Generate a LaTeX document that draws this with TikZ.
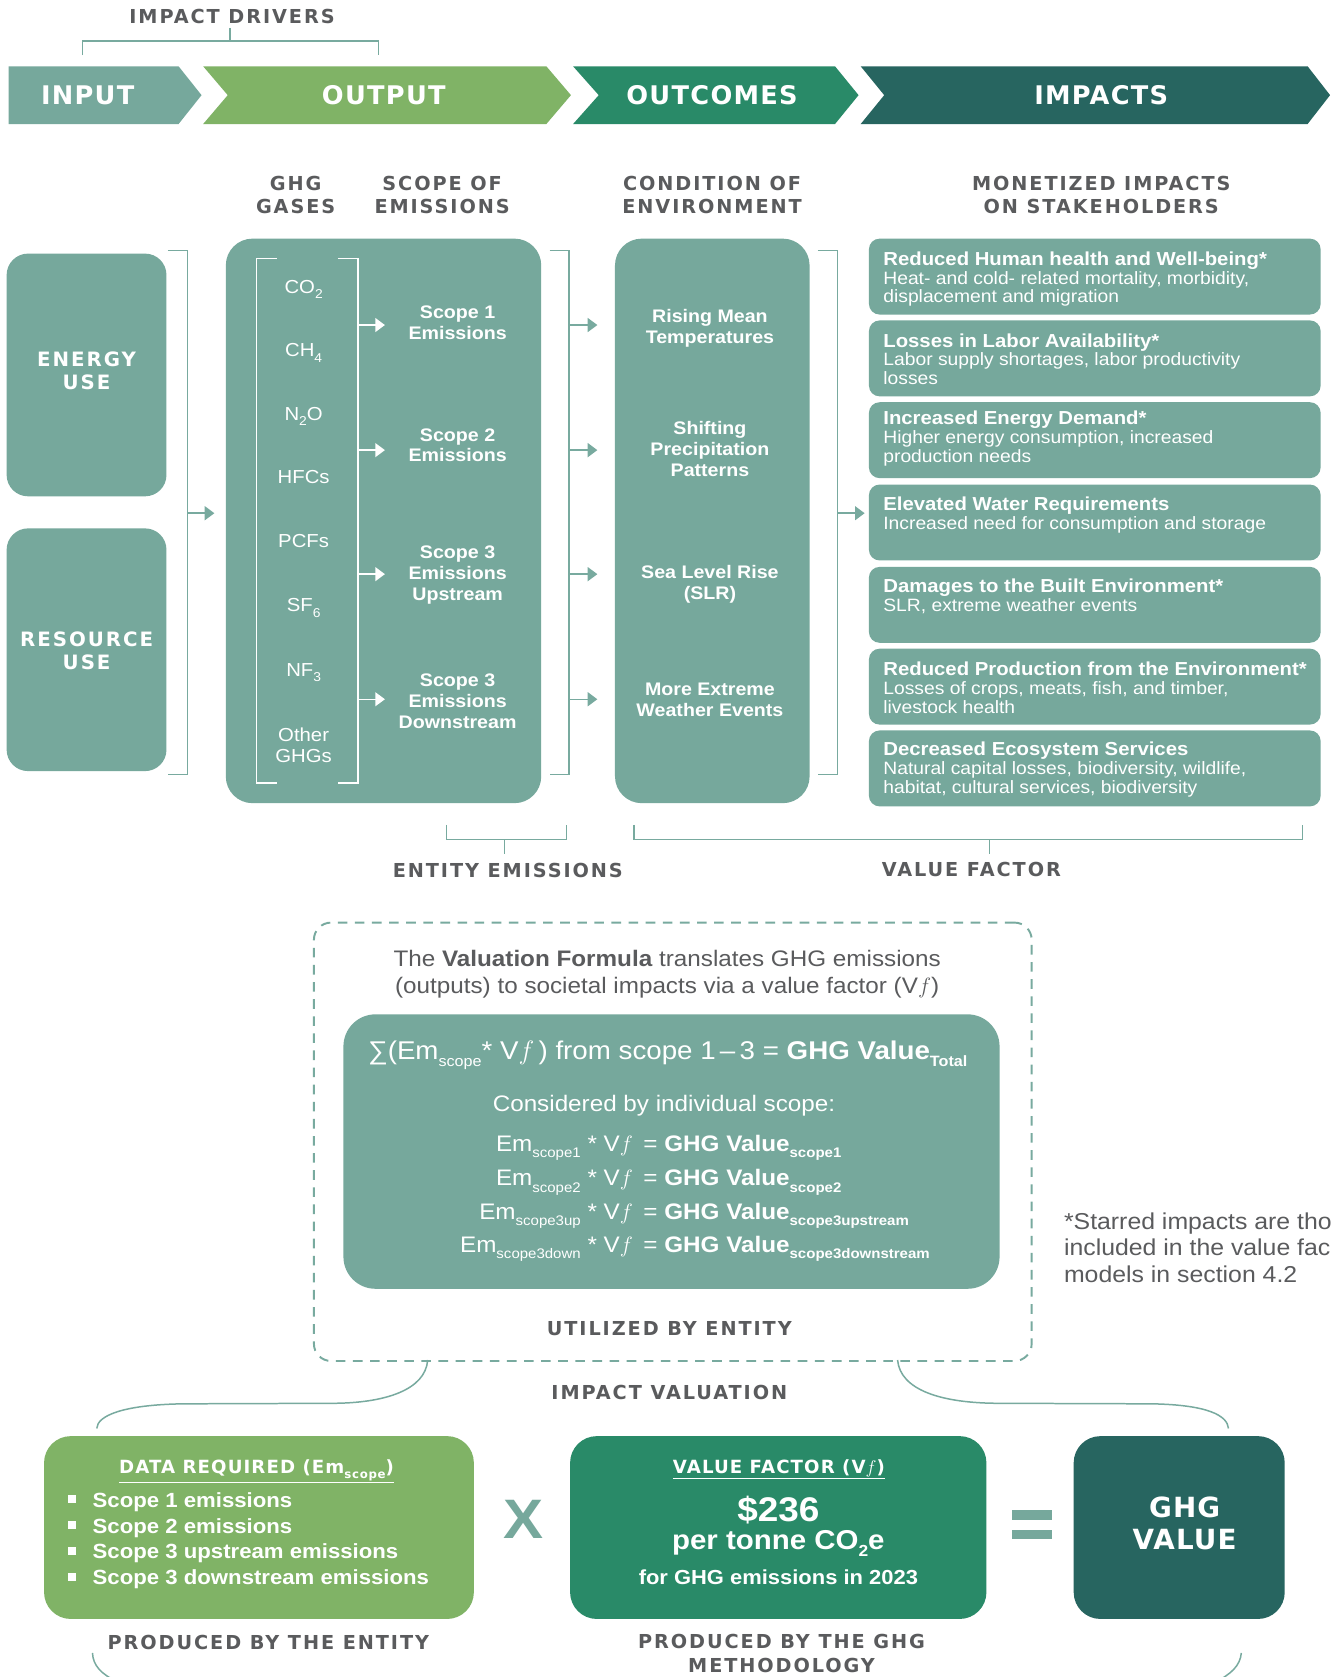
\documentclass[tikz,border=0pt]{standalone}
\usepackage{fontspec}
\setmainfont[FakeStretch=1.08]{Liberation Sans}
\newfontfamily\capsA[LetterSpace=10]{DejaVu Sans}
\newfontfamily\capsB[LetterSpace=5]{DejaVu Sans}
\newfontfamily\capsC[LetterSpace=4]{DejaVu Sans}
\newfontfamily\capsD[LetterSpace=6]{DejaVu Sans}
\usetikzlibrary{arrows.meta}
\definecolor{tealg}{HTML}{76A89C}
\definecolor{grn}{HTML}{80B366}
\definecolor{mgrn}{HTML}{298A68}
\definecolor{dteal}{HTML}{276560}
\definecolor{gtxt}{HTML}{5A5B5D}
\definecolor{lnc}{HTML}{78AA9F}
\newcommand{\fs}[2]{\fontsize{#1}{#2}\selectfont}
\newcommand{\lowtxt}[3]{\raisebox{-#2pt}{\fontsize{#1}{#1}\selectfont #3}}
\newcommand{\bulsq}{\makebox[23pt][l]{\rule[4pt]{7pt}{7pt}}}
\begin{document}
\begin{tikzpicture}[x=1pt,y=-1pt,
  hdr/.style={text=gtxt,font=\capsA\bfseries\fs{18}{22},align=center,inner sep=0},
  chevtxt/.style={text=white,font=\capsB\bfseries\fs{24}{28},inner sep=0},
  boxtxt/.style={text=white,font=\capsA\bfseries\fs{18.5}{22},align=center,inner sep=0},
  tbox/.style={fill=tealg,rounded corners=22pt,inner sep=0,anchor=north west},
  ibox/.style={fill=tealg,rounded corners=10pt,inner sep=0,anchor=north west,minimum width=422.5pt,minimum height=71pt},
  brl/.style={draw=lnc,line width=1.4pt},
  wbrl/.style={draw=white,line width=1.3pt},
  tarr/.style={draw=lnc,line width=1.4pt,-{Triangle[length=9pt,width=13pt]}},
  warr/.style={draw=white,line width=1.4pt,-{Triangle[length=9pt,width=13pt]}},
  gas/.style={text=white,font=\fs{17.6}{19.5},align=center,inner sep=0},
  scp/.style={text=white,font=\bfseries\fs{17}{19.5},align=center,inner sep=0},
  imp/.style={text=white,font=\fs{16.7}{17.6},align=left,inner sep=0,anchor=west},
  ftx/.style={text=white,font=\fs{21}{25},inner sep=0},
  wtx/.style={text=white,inner sep=0}
]
\fill[white] (0,0) rectangle (1244,1568.5);
\useasboundingbox (0,0) rectangle (1244,1568.5);

% ---- top bracket and chevrons
\node[hdr] (idr) at (217,15) {IMPACT DRIVERS};
\coordinate (id0) at (215,26);
\draw[brl] (id0) -- (215,38.5);
\draw[brl] (77,51.5) -- (77,38.5) -- (354,38.5) -- (354,51.5);

\fill[tealg] (8,62) -- (167,62) -- (188.5,89) -- (167,116) -- (8,116) -- cycle;
\fill[grn] (190,62) -- (511,62) -- (534,89) -- (511,116) -- (190,116) -- (213,89) -- cycle;
\fill[mgrn] (536,62) -- (781,62) -- (803,89) -- (781,116) -- (536,116) -- (560,89) -- cycle;
\fill[dteal] (805,62) -- (1223,62) -- (1244,89) -- (1223,116) -- (805,116) -- (827,89) -- cycle;
\node[chevtxt] (tin) at (82,89) {INPUT};
\node[chevtxt] (tout) at (359,89) {OUTPUT};
\node[chevtxt] (toc) at (666,89) {OUTCOMES};
\node[chevtxt] (tim) at (1030,89) {IMPACTS};

% ---- column headers
\node[hdr] (hg) at (276.5,182.4) {GHG\\GASES};
\node[hdr] (hs) at (413.5,182.4) {SCOPE OF\\EMISSIONS};
\node[hdr] (hc) at (666,182.4) {CONDITION OF\\ENVIRONMENT};
\node[hdr] (hm) at (1030,182.4) {MONETIZED IMPACTS\\ON STAKEHOLDERS};

% ---- input boxes
\node[tbox,minimum width=149.5pt,minimum height=227pt,rounded corners=20pt] (energy) at (6,237) {};
\node[boxtxt] (energyt) at (81,347) {ENERGY\\USE};
\node[tbox,minimum width=149.5pt,minimum height=227pt,rounded corners=20pt] (resource) at (6,494) {};
\node[boxtxt] (resourcet) at (81,608.5) {RESOURCE\\USE};
\draw[brl] (157,234.5) -- (175.4,234.5) -- (175.4,724.6) -- (157,724.6);

% ---- output box
\node[tbox,minimum width=295pt,minimum height=528pt,rounded corners=25pt] (midbox) at (211,223) {};
\coordinate (ba) at (175.4,480);
\coordinate (bae) at (200.5,480);
\draw[tarr] (ba) -- (bae);

\draw[wbrl] (258.7,241.6) -- (240,241.6) -- (240,732.5) -- (258.7,732.5);
\draw[wbrl] (316,241.6) -- (335,241.6) -- (335,732.5) -- (316,732.5);

\node[gas,anchor=base] (g1) at (284,274.3) {CO\lowtxt{12}{5}{2}};
\node[gas,anchor=base] (g2) at (284,333.8) {CH\lowtxt{12}{5}{4}};
\node[gas,anchor=base] (g3) at (284,393.3) {N\lowtxt{12}{5}{2}O};
\node[gas,anchor=base] (g4) at (284,452.3) {HFCs};
\node[gas,anchor=base] (g5) at (284,512.3) {PCFs};
\node[gas,anchor=base] (g6) at (284,572.3) {SF\lowtxt{12}{5}{6}};
\node[gas,anchor=base] (g7) at (284,632.8) {NF\lowtxt{12}{5}{3}};
\node[gas] (g8) at (284,697.4) {Other\\GHGs};

\node[scp] (s1) at (428,302.2) {Scope 1\\Emissions};
\node[scp] (s2) at (428,416.5) {Scope 2\\Emissions};
\node[scp] (s3) at (428,537.9) {Scope 3\\Emissions\\Upstream};
\node[scp] (s4) at (428,656.1) {Scope 3\\Emissions\\Downstream};

\foreach \yy/\nn in {304/1,421/2,537/3,654/4}{
  \coordinate (sa\nn) at (335,\yy);
  \coordinate (sb\nn) at (360,\yy);
  \draw[warr] (sa\nn) -- (sb\nn);
}

% ---- bracket to outcomes
\draw[brl] (514,234.5) -- (532,234.5) -- (532,724.6) -- (514,724.6);
\foreach \yy/\nn in {304/1,421/2,537/3,654/4}{
  \coordinate (ca\nn) at (532,\yy);
  \coordinate (cb\nn) at (558.7,\yy);
  \draw[tarr] (ca\nn) -- (cb\nn);
}

% ---- outcomes box
\node[tbox,minimum width=182pt,minimum height=528pt,rounded corners=25pt] (condbox) at (575,223) {};
\node[scp] (c1) at (664,307.4) {Rising Mean\\Temperatures};
\node[scp] (c2) at (664,420.2) {Shifting\\Precipitation\\Patterns};
\node[scp] (c3) at (664,546.5) {Sea Level Rise\\(SLR)};
\node[scp] (c4) at (664,654.5) {More Extreme\\Weather Events};

\draw[brl] (765,234.5) -- (783.5,234.5) -- (783.5,724.6) -- (765,724.6);
\coordinate (da) at (783.5,480);
\coordinate (db) at (808.7,480);
\draw[tarr] (da) -- (db);

% ---- impact boxes
\node[ibox] (i1) at (812.5,223) {};
\node[ibox] (i2) at (812.5,299.5) {};
\node[ibox] (i3) at (812.5,376) {};
\node[ibox] (i4) at (812.5,453) {};
\node[ibox] (i5) at (812.5,530) {};
\node[ibox] (i6) at (812.5,606.5) {};
\node[ibox] (i7) at (812.5,683) {};

\node[imp] (it1) at (826,261) {{\bfseries\fs{17.6}{17.6}Reduced Human health and Well-being*}\\Heat- and cold- related mortality, morbidity,\\displacement and migration};
\node[imp] (it2) at (826,336) {{\bfseries\fs{17.6}{17.6}Losses in Labor Availability*}\\Labor supply shortages, labor productivity\\losses};
\node[imp] (it3) at (826,410) {{\bfseries\fs{17.6}{17.6}Increased Energy Demand*}\\Higher energy consumption, increased\\production needs};
\node[imp] (it4) at (826,482) {{\bfseries\fs{17.6}{17.6}Elevated Water Requirements}\\Increased need for consumption and storage};
\node[imp] (it5) at (826,558) {{\bfseries\fs{17.6}{17.6}Damages to the Built Environment*}\\SLR, extreme weather events};
\node[imp] (it6) at (826,643) {{\bfseries\fs{17.6}{17.6}Reduced Production from the Environment*}\\Losses of crops, meats, fish, and timber,\\livestock health};
\node[imp] (it7) at (826,719.5) {{\bfseries\fs{17.6}{17.6}Decreased Ecosystem Services}\\Natural capital losses, biodiversity, wildlife,\\habitat, cultural services, biodiversity};

% ---- lower brackets
\draw[brl] (417.5,771.6) -- (417.5,785) -- (530,785) -- (530,771.6);
\draw[brl] (472,785) -- (472,798.5);
\node[hdr] (ent) at (475,814.5) {ENTITY EMISSIONS};
\draw[brl] (593,771.6) -- (593,785) -- (1218.4,785) -- (1218.4,771.6);
\draw[brl] (925.6,785) -- (925.6,798.5);
\node[hdr] (vfl) at (908.5,813.5) {VALUE FACTOR};

% ---- valuation formula
\node[draw=lnc,line width=1.8pt,dash pattern=on 9pt off 7pt,rounded corners=16pt,minimum width=671.3pt,minimum height=410pt,anchor=north west,inner sep=0] (dash) at (292.7,862) {};
\node[text=gtxt,font=\fs{21}{25.5},align=center,inner sep=0] (cap) at (624,911) {The \textbf{Valuation Formula} translates GHG emissions\\(outputs) to societal impacts via a value factor (V$f$)};
\node[tbox,minimum width=613.7pt,minimum height=256.7pt,rounded corners=30pt] (fbox) at (321,948.5) {};
\node[ftx,font=\fs{24}{28},anchor=base west] (ftot) at (344,990.5) {∑(Em\lowtxt{14}{7}{scope}* V$f$\,) from scope 1\,–\,3 = \textbf{GHG Value}\lowtxt{14}{7}{\textbf{Total}}};
\node[ftx] (cons) at (621,1034) {Considered by individual scope:};
\node[ftx,anchor=base west] (r1) at (420,1077) {\makebox[123pt][r]{Em\lowtxt{13}{6}{scope1}} * V$f$ \,= \textbf{GHG Value}\lowtxt{13}{6}{\textbf{scope1}}};
\node[ftx,anchor=base west] (r2) at (420,1109) {\makebox[123pt][r]{Em\lowtxt{13}{6}{scope2}} * V$f$ \,= \textbf{GHG Value}\lowtxt{13}{6}{\textbf{scope2}}};
\node[ftx,anchor=base west] (r3) at (420,1140.5) {\makebox[123pt][r]{Em\lowtxt{13}{6}{scope3up}} * V$f$ \,= \textbf{GHG Value}\lowtxt{13}{6}{\textbf{scope3upstream}}};
\node[ftx,anchor=base west] (r4) at (420,1171.5) {\makebox[123pt][r]{Em\lowtxt{13}{6}{scope3down}} * V$f$ \,= \textbf{GHG Value}\lowtxt{13}{6}{\textbf{scope3downstream}}};
\node[hdr] (ube) at (626,1243) {UTILIZED BY ENTITY};

\node[text=gtxt,font=\fs{21.5}{24.5},align=left,anchor=west,inner sep=0] (foot) at (995,1167) {*Starred impacts are tho\\included in the value fac\\models in section 4.2};

% ---- braces
\coordinate (cl0) at (400,1272);
\coordinate (cl1) at (90.5,1336);
\draw[brl] (cl0) .. controls (398,1300) and (360,1312.5) .. (310,1312.5) -- (170,1313) .. controls (115,1314) and (91,1324) .. (cl1);
\coordinate (cr0) at (839.5,1272);
\coordinate (cr1) at (1149,1336);
\draw[brl] (cr0) .. controls (842,1300) and (880,1312.5) .. (935,1312.5) -- (1078,1313) .. controls (1130,1314) and (1148,1324) .. (cr1);
\node[hdr] (iva) at (626,1302) {IMPACT VALUATION};

% ---- bottom boxes
\node[tbox,fill=grn,minimum width=402pt,minimum height=171pt,rounded corners=25pt] (datab) at (41,1343) {};
\node[tbox,fill=mgrn,minimum width=389.4pt,minimum height=171pt,rounded corners=25pt] (vfb) at (533,1343) {};
\node[tbox,fill=dteal,minimum width=197.4pt,minimum height=171pt,rounded corners=25pt] (gvb) at (1004,1343) {};

\node[wtx,font=\capsD\bfseries\fs{17}{20},anchor=base] (dtt) at (240,1378) {\underline{DATA REQUIRED (Em\lowtxt{11}{5}{scope})}};
\node[wtx,font=\bfseries\fs{19.2}{24.3},align=left,anchor=west] (blist) at (63.5,1441) {\bulsq Scope 1 emissions\\\bulsq Scope 2 emissions\\\bulsq Scope 3 upstream emissions\\\bulsq Scope 3 downstream emissions};

\node[text=tealg,font=\bfseries\fs{52}{52},inner sep=0] (xop) at (490,1421.5) {X};

\node[wtx,font=\capsD\bfseries\fs{17}{20},anchor=base] (vft) at (728.5,1378) {\underline{VALUE FACTOR (V$f$)}};
\node[wtx,font=\bfseries\fs{32}{36}] (p236) at (728,1412) {\$236};
\node[wtx,font=\bfseries\fs{25.5}{28},anchor=base] (ptn) at (728,1449.5) {per tonne CO\lowtxt{15}{6}{2}e};
\node[wtx,font=\bfseries\fs{19}{22}] (fgh) at (728,1475) {for GHG emissions in 2023};

\fill[tealg] (946.6,1412.5) rectangle (984,1421.2);
\fill[tealg] (946.6,1430.9) rectangle (984,1439.7);

\node[wtx,font=\capsC\bfseries\fs{26}{30},align=center] (gvt) at (1108,1425) {GHG\\VALUE};

\node[hdr] (pbe) at (251,1536.6) {PRODUCED BY THE ENTITY};
\node[hdr] (pbg) at (731,1546.3) {PRODUCED BY THE GHG\\METHODOLOGY};
\coordinate (bl0) at (86.5,1546);
\coordinate (bl1) at (110,1573);
\draw[brl] (bl0) .. controls (87,1558) and (95,1566) .. (bl1);
\coordinate (br0) at (1161,1546);
\coordinate (br1) at (1137,1573);
\draw[brl] (br0) .. controls (1160,1558) and (1151,1566) .. (br1);
\end{tikzpicture}
\end{document}
